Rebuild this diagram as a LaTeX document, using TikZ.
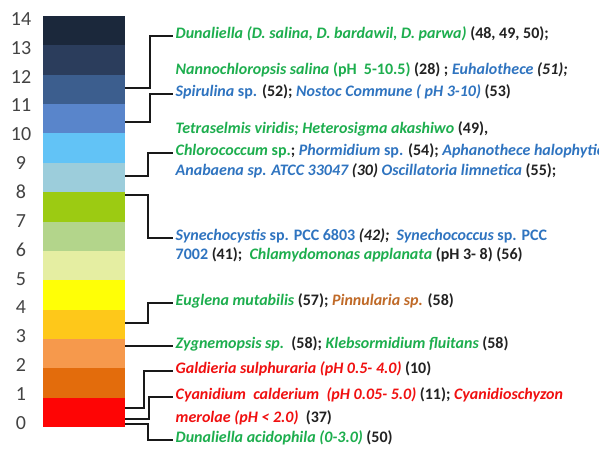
\documentclass[tikz,border=0pt]{standalone}
\usepackage{fontspec}
\setmainfont{Carlito}
\definecolor{tgrn}{HTML}{1DAE4E}
\definecolor{tblu}{HTML}{2F74C0}
\definecolor{tred}{HTML}{F01010}
\definecolor{tbrn}{HTML}{C06A28}
\definecolor{tblk}{HTML}{222222}
\definecolor{bA}{HTML}{1B283B}
\definecolor{bB}{HTML}{2B3D5C}
\definecolor{bC}{HTML}{3C5E8E}
\definecolor{bD}{HTML}{5985CB}
\definecolor{bE}{HTML}{62C3F6}
\definecolor{bF}{HTML}{9CCDDB}
\definecolor{bG}{HTML}{9CCB12}
\definecolor{bH}{HTML}{B3D58B}
\definecolor{bI}{HTML}{E5EEA2}
\definecolor{bJ}{HTML}{FFFF06}
\definecolor{bK}{HTML}{FEC81A}
\definecolor{bL}{HTML}{F6994C}
\definecolor{bM}{HTML}{E36C0C}
\definecolor{bN}{HTML}{FE0505}
\newcommand\xGI[1]{{\color{tgrn}\itshape #1}}
\newcommand\xGU[1]{{\color{tgrn}#1}}
\newcommand\xBI[1]{{\color{tblu}\itshape #1}}
\newcommand\xBU[1]{{\color{tblu}#1}}
\newcommand\xRI[1]{{\color{tred}\itshape #1}}
\newcommand\xNI[1]{{\color{tbrn}\itshape #1}}
\newcommand\xK[1]{{\color{tblk}#1}}
\newcommand\xKI[1]{{\color{tblk}\itshape #1}}
\begin{document}
\begin{tikzpicture}[x=1pt,y=-1pt,
  lbl/.style={anchor=west,inner xsep=2.5pt,inner ysep=0pt,text height=0.7em,text depth=0.2em,
    font=\fontsize{16}{18}\selectfont\bfseries},
  phnum/.style={anchor=center,font=\fontsize{20}{22}\selectfont,text=tblk!85},
  conn/.style={line width=1.7pt,black!90}]
\useasboundingbox (0,0) rectangle (599,459);
\clip (0,0) rectangle (599,459);
\fill[white] (0,0) rectangle (599,459);
% colour bar
\foreach \c [count=\i from 0] in {bA,bB,bC,bD,bE,bF,bG,bH,bI,bJ,bK,bL,bM,bN}
  \fill[\c] (43,{16+\i*29.36}) rectangle (125,{16+(\i+1)*29.36});
\node[draw=none,inner sep=0,minimum width=82pt,minimum height=411pt,anchor=north west] (bar) at (43,16) {};
% pH scale
\foreach \k in {0,...,14}
  \node[phnum] (n\k) at (21,{423-\k*28.86}) {\k};
% connection points on bar
\coordinate (s1) at (125,88);
\coordinate (s2) at (125,122);
\coordinate (s3) at (125,176);
\coordinate (s4) at (125,195);
\coordinate (s5) at (125,323);
\coordinate (s6) at (125,346);
\coordinate (s7) at (125,408);
\coordinate (s8) at (125,419);
\coordinate (s9) at (125,424);
% labels
\node[lbl] (t1) at (173,36) {\xGI{Dunaliella (D. salina, D. bardawil, D. parwa)} \xK{(48, 49, 50);}};
\node[lbl] (t1b) at (173,72) {\xGI{Nannochloropsis salina} \xGU{(pH\ \ 5-10.5)} \xK{(28) ;} \xBI{Euhalothece} \xKI{(51);}};
\node[lbl] (t2) at (173,94) {\xBI{Spirulina} \xBU{sp.} \xK{(52);} \xBI{Nostoc Commune ( pH 3-10)} \xK{(53)}};
\node[lbl] (t3a) at (173,131) {\xGI{Tetraselmis viridis; Heterosigma akashiwo} \xK{(49),}};
\node[lbl] (t3) at (173,153) {\xGI{Chlorococcum} \xGU{sp.}\xK{;} \xBI{Phormidium} \xBU{sp.} \xK{(54);} \xBI{Aphanothece halophytica}};
\node[lbl] (t3b) at (173,173) {\xBI{Anabaena sp. ATCC 33047} \xKI{(30)} \xBI{Oscillatoria limnetica} \xK{(55);}};
\node[lbl] (t4) at (173,238) {\xBI{Synechocystis} \xBU{sp. PCC 6803} \xKI{(42);}\ \ \xBI{Synechococcus} \xBU{sp. PCC}};
\node[lbl] (t4b) at (173,257) {\xBU{7002} \xK{(41);}\ \ \xGI{Chlamydomonas applanata} \xK{(pH 3- 8) (56)}};
\node[lbl] (t5) at (173,303) {\xGI{Euglena mutabilis} \xK{(57);} \xNI{Pinnularia sp.} \xK{(58)}};
\node[lbl] (t6) at (173,346) {\xGI{Zygnemopsis sp.}\ \ \xK{(58);} \xGI{Klebsormidium fluitans} \xK{(58)}};
\node[lbl] (t7) at (173,371) {\xRI{Galdieria sulphuraria (pH 0.5- 4.0)} \xK{(10)}};
\node[lbl] (t8) at (173,397) {\xRI{Cyanidium\ \ calderium\ \ (pH 0.05- 5.0)} \xK{(11);} \xRI{Cyanidioschyzon}};
\node[lbl] (t8b) at (173,420) {\xRI{merolae (pH < 2.0)}\ \ \xK{(37)}};
\node[lbl] (t9) at (173,440) {\xGI{Dunaliella acidophila (0-3.0)} \xK{(50)}};
% connectors
\draw[conn] (s1) -- (150,88) |- (t1.west);
\draw[conn] (s2) -- (150,122) |- (t2.west);
\draw[conn] (s3) -- (148,176) |- (t3.west);
\draw[conn] (s4) -- (148,195) |- (t4.west);
\draw[conn] (s5) -- (148,323) |- (t5.west);
\draw[conn] (s6) -- (t6.west);
\draw[conn] (s7) -- (144,408) |- (t7.west);
\draw[conn] (s8) -- (149,419) |- (t8.west);
\draw[conn] (s9) -- (148,424) |- (t9.west);
\end{tikzpicture}
\end{document}
